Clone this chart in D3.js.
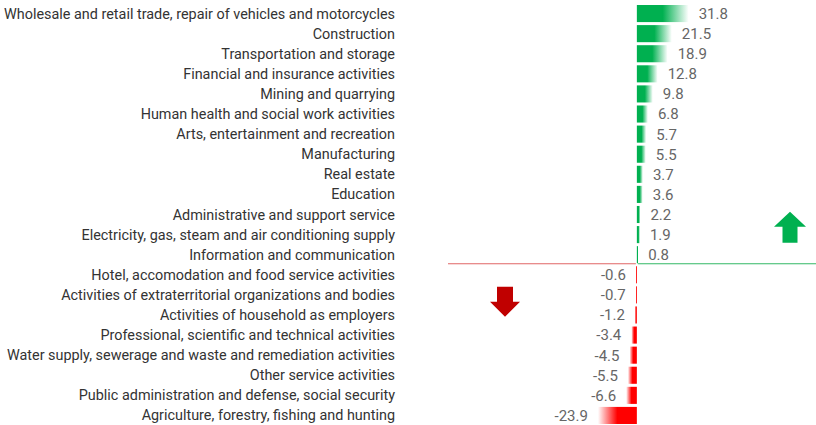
<!DOCTYPE html>
<html>
<head>
<meta charset="UTF-8">
<script src="https://d3js.org/d3.v7.min.js"></script>
<style>
  body { margin: 0; background: #fff; }
  svg { display: block; }
  .cat { font: 14.4px Roboto, sans-serif; fill: #333; }
  .val { font: 15px Roboto, sans-serif; fill: #666; }
</style>
</head>
<body>
<script>
// DATA
var categories = [
  "Wholesale and retail trade, repair of vehicles and motorcycles",
  "Construction",
  "Transportation and storage",
  "Financial and insurance activities",
  "Mining and quarrying",
  "Human health and social work activities",
  "Arts, entertainment and recreation",
  "Manufacturing",
  "Real estate",
  "Education",
  "Administrative and support service",
  "Electricity, gas, steam and air conditioning supply",
  "Information and communication",
  "Hotel, accomodation and food service activities",
  "Activities of extraterritorial organizations and bodies",
  "Activities of household as employers",
  "Professional, scientific and technical activities",
  "Water supply, sewerage and waste and remediation activities",
  "Other service activities",
  "Public administration and defense, social security",
  "Agriculture, forestry, fishing and hunting"
];
var values = [31.8, 21.5, 18.9, 12.8, 9.8, 6.8, 5.7, 5.5, 3.7, 3.6, 2.2, 1.9, 0.8,
              -0.6, -0.7, -1.2, -3.4, -4.5, -5.5, -6.6, -23.9];

var data = categories.map(function (c, i) { return {cat: c, value: values[i]}; });

var width = 816, height = 425;
var green = "#00b050", red = "#ff0000";

var svg = d3.select("body").append("svg")
    .attr("width", width)
    .attr("height", height);

// SCALES
var x = d3.scaleLinear().domain([-30, 40]).range([588, 702]);
var y = d3.scaleBand()
    .domain(categories)
    .range([3.5, 425.5])
    .paddingInner(0.15)
    .paddingOuter(0.075);

// GRADIENTS
var defs = svg.append("defs");
var gPos = defs.append("linearGradient").attr("id", "gradPos")
    .attr("x1", "0%").attr("x2", "100%").attr("y1", "0%").attr("y2", "0%");
gPos.append("stop").attr("offset", "0%").attr("stop-color", green);
gPos.append("stop").attr("offset", "50%").attr("stop-color", green);
gPos.append("stop").attr("offset", "100%").attr("stop-color", "#fff");

var gNeg = defs.append("linearGradient").attr("id", "gradNeg")
    .attr("x1", "100%").attr("x2", "0%").attr("y1", "0%").attr("y2", "0%");
gNeg.append("stop").attr("offset", "0%").attr("stop-color", red);
gNeg.append("stop").attr("offset", "50%").attr("stop-color", red);
gNeg.append("stop").attr("offset", "100%").attr("stop-color", "#fff");

// BARS
svg.append("g").selectAll("rect")
    .data(data)
    .join("rect")
      .attr("x", function (d) { return x(Math.min(0, d.value)); })
      .attr("y", function (d) { return y(d.cat); })
      .attr("width", function (d) { return Math.abs(x(d.value) - x(0)); })
      .attr("height", y.bandwidth())
      .attr("fill", function (d) { return d.value >= 0 ? "url(#gradPos)" : "url(#gradNeg)"; });

// BASELINE
var lastPos = categories[values.filter(function (v) { return v >= 0; }).length - 1];
var baseY = y(lastPos) + y.bandwidth() + 0.5;
svg.append("line")
    .attr("x1", 448).attr("x2", x(0) - 1)
    .attr("y1", baseY).attr("y2", baseY)
    .attr("stroke", "#e06666").attr("stroke-width", 1.2);
svg.append("line")
    .attr("x1", x(0) + 1).attr("x2", width)
    .attr("y1", baseY).attr("y2", baseY)
    .attr("stroke", "#33b866").attr("stroke-width", 1.2);

// CATEGORY LABELS
svg.append("g").selectAll("text")
    .data(data)
    .join("text")
      .attr("class", "cat")
      .attr("x", 395)
      .attr("y", function (d) { return y(d.cat) + y.bandwidth() / 2; })
      .attr("dy", "0.35em")
      .attr("text-anchor", "end")
      .text(function (d) { return d.cat; });

// VALUE LABELS
svg.append("g").selectAll("text")
    .data(data)
    .join("text")
      .attr("class", "val")
      .attr("x", function (d) { return d.value >= 0 ? x(d.value) + 10 : x(d.value) - 10; })
      .attr("y", function (d) { return y(d.cat) + y.bandwidth() / 2; })
      .attr("dy", "0.36em")
      .attr("text-anchor", function (d) { return d.value >= 0 ? "start" : "end"; })
      .text(function (d) { return d.value.toFixed(1); });

// ARROWS
function arrow(cx, top, up, color) {
  // 32 wide, 31 tall; shaft 15 wide
  var p = up
    ? [[cx, top], [cx + 16, top + 15], [cx + 7.5, top + 15], [cx + 7.5, top + 31],
       [cx - 7.5, top + 31], [cx - 7.5, top + 15], [cx - 16, top + 15]]
    : [[cx - 8, top], [cx + 8, top], [cx + 8, top + 15], [cx + 15, top + 15],
       [cx, top + 30], [cx - 15, top + 15], [cx - 8, top + 15]];
  svg.append("path")
    .attr("d", d3.line()(p) + "Z")
    .attr("fill", color);
}
arrow(790, baseY - 52, true, green);
arrow(505, baseY + 23, false, "#c00000");
</script>
</body>
</html>
